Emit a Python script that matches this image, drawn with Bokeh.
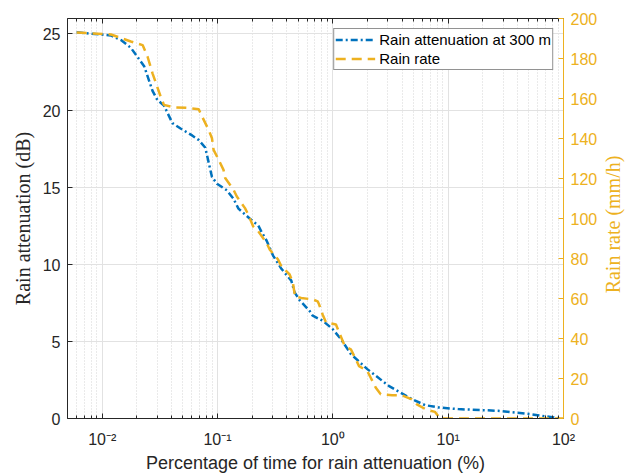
import math
from bokeh.plotting import figure
from bokeh.layouts import row
from bokeh.models import (Range1d, LinearAxis, LogAxis, FixedTicker,
                          CustomJSTickFormatter, Legend, LegendItem, Label)
from bokeh.embed import file_html
from bokeh.resources import INLINE

# ---- data ----
pct_att = [0.006, 0.0119, 0.01455, 0.0177, 0.0231, 0.0273, 0.0301, 0.0343,
           0.0406, 0.0478, 0.0602, 0.0687, 0.0784, 0.0811, 0.0895, 0.0989,
           0.1205, 0.1374, 0.1518, 0.191, 0.2254, 0.241, 0.266, 0.303,
           0.358, 0.436, 0.466, 0.514, 0.627, 0.669, 0.815, 0.993, 1.174,
           1.432, 1.99, 3.05, 4.84, 6.31, 8.22, 12.2, 27.0, 52.0, 94.0]
att_db = [25.1, 24.9, 24.6, 24.1, 22.9, 21.3, 20.7, 20.35,
          19.2, 18.85, 18.4, 18.1, 17.6, 17.1, 15.7, 15.26,
          14.83, 14.29, 13.64, 12.98, 12.55, 12.12, 11.57, 10.59,
          9.73, 8.96, 8.2, 7.7, 7.0, 6.68, 6.36, 5.82, 5.17,
          4.19, 3.21, 2.12, 1.26, 0.87, 0.72, 0.61, 0.5, 0.28, 0.0]

pct_rate = [0.006, 0.0119, 0.0177, 0.0224, 0.0247, 0.0273, 0.0321, 0.0343,
            0.0418, 0.0546, 0.0687, 0.0734, 0.0837, 0.0895, 0.0924, 0.0989,
            0.1127, 0.1165, 0.1374, 0.147, 0.173, 0.185, 0.204, 0.2254,
            0.266, 0.284, 0.335, 0.358, 0.422, 0.45, 0.47, 0.532, 0.669,
            0.738, 0.76, 0.815, 0.873, 1.064, 1.135, 1.253, 1.337, 1.432,
            1.58, 1.687, 1.99, 2.13, 2.35, 2.6, 3.26, 3.97, 4.84, 5.35,
            6.52, 7.69, 8.5, 100.0]
rain_rate = [193, 192, 188.5, 186.7, 181, 172.6, 161, 156.8,
             155.6, 155.3, 154.6, 151, 144.3, 140.1, 134.3, 131,
             124.3, 120.2, 114.4, 111, 105.2, 101.9, 96, 93.6,
             87.8, 84.4, 79.5, 76.1, 72, 68, 61, 60.3, 59.5,
             58.6, 57, 52, 48, 47, 43, 37, 35.4, 34.6,
             29.6, 26.2, 23.7, 20.4, 15.5, 12.1, 11.6, 11.6, 9.6, 7.1,
             4.3, 3.3, 0, 0]

x_ticks = [0.01, 0.1, 1, 10, 100]
x_exps = [-2, -1, 0, 1, 2]
x_tick_labels = ["10\u207b\u00b2", "10\u207b\u00b9", "10\u2070", "10\u00b9", "10\u00b2"]
x_minor = [m * 10.0 ** e for e in range(-3, 2) for m in range(2, 10)]
y_left_ticks = [0, 5, 10, 15, 20, 25]
y_right_ticks = [0, 20, 40, 60, 80, 100, 120, 140, 160, 180, 200]

BLUE = "#0072BD"
ORANGE = "#EDB120"
DARK = "#262626"
SANS = "Liberation Sans"
SERIF = "Liberation Serif"

p = figure(width=600, height=475, x_axis_type="log",
           x_range=Range1d(0.005, 100), y_range=Range1d(0, 26),
           output_backend="svg", toolbar_location=None,
           min_border_left=67, min_border_right=34,
           min_border_top=18, min_border_bottom=56)
p.extra_y_ranges = {"rate": Range1d(0, 200)}
p.outline_line_color = None
p.background_fill_color = "white"
p.border_fill_color = "white"

xticker = FixedTicker(ticks=x_ticks, minor_ticks=x_minor)
xfmt = CustomJSTickFormatter(args=dict(labels=x_tick_labels, exps=x_exps),
                             code="const e = Math.round(Math.log10(tick)); const i = exps.indexOf(e); return i >= 0 ? labels[i] : '';")

xa = p.xaxis[0]
xa.ticker = xticker
xa.formatter = xfmt
xa.axis_label = "Percentage of time for rain attenuation (%)"
xa.axis_label_text_font = SANS
xa.axis_label_text_font_style = "normal"
xa.axis_label_text_font_size = "18px"
xa.axis_label_text_color = DARK
xa.axis_label_standoff = 2
xa.major_label_text_font = SANS
xa.major_label_text_font_size = "16px"
xa.major_label_text_color = DARK
xa.major_label_standoff = 12
xa.axis_line_color = DARK
xa.major_tick_line_color = DARK
xa.minor_tick_line_color = DARK
xa.major_tick_in = 5
xa.major_tick_out = 0
xa.minor_tick_in = 3
xa.minor_tick_out = 0

ya = p.yaxis[0]
ya.ticker = FixedTicker(ticks=y_left_ticks)
ya.axis_label = "Rain attenuation (dB)"
ya.axis_label_text_font = SERIF
ya.axis_label_text_font_style = "normal"
ya.axis_label_text_font_size = "20px"
ya.axis_label_text_color = DARK
ya.axis_label_standoff = 6
ya.major_label_text_font = SANS
ya.major_label_text_font_size = "16px"
ya.major_label_text_color = DARK
ya.major_label_standoff = 7
ya.axis_line_color = DARK
ya.major_tick_line_color = DARK
ya.minor_tick_line_color = None
ya.major_tick_in = 5
ya.major_tick_out = 0

top = LogAxis(ticker=xticker,
              formatter=CustomJSTickFormatter(code="return '';"),
              major_label_text_font_size="0px", major_label_standoff=0,
              axis_line_color=DARK, major_tick_line_color=DARK,
              minor_tick_line_color=DARK, major_tick_in=5, major_tick_out=0,
              minor_tick_in=3, minor_tick_out=0)
p.add_layout(top, "above")

ra = LinearAxis(y_range_name="rate", ticker=FixedTicker(ticks=y_right_ticks))
ra.major_label_text_font = SANS
ra.major_label_text_font_size = "16px"
ra.major_label_text_color = ORANGE
ra.major_label_standoff = 7
ra.axis_line_color = ORANGE
ra.major_tick_line_color = ORANGE
ra.minor_tick_line_color = None
ra.major_tick_in = 5
ra.major_tick_out = 0
p.add_layout(ra, "right")

p.xgrid.ticker = xticker
p.xgrid.grid_line_color = "#e2e2e2"
p.xgrid.grid_line_width = 1
p.xgrid.minor_grid_line_color = "#d4d4d4"
p.xgrid.minor_grid_line_dash = "1 2"
p.ygrid.grid_line_color = "#e2e2e2"

r1 = p.line(pct_att, att_db, line_color=BLUE, line_width=2.5,
            line_dash="7 3 2 3")
r2 = p.line(pct_rate, rain_rate, y_range_name="rate", line_color=ORANGE,
            line_width=2.5, line_dash="10 6")

legend = Legend(items=[LegendItem(label="Rain attenuation at 300 m", renderers=[r1]),
                       LegendItem(label="Rain rate", renderers=[r2])],
                location="top_right")
legend.margin = 10
legend.padding = 1
legend.spacing = 0
legend.glyph_width = 40
legend.glyph_height = 19
legend.label_height = 19
legend.label_standoff = 4
legend.label_text_font = SANS
legend.label_text_font_size = "15px"
legend.label_text_color = "#000000"
legend.border_line_color = DARK
legend.border_line_width = 1
legend.background_fill_color = "white"
legend.background_fill_alpha = 1
p.add_layout(legend)

# narrow strip carrying the right-axis title, reading bottom-to-top
p2 = figure(width=28, height=475, output_backend="svg", toolbar_location=None,
            x_axis_type=None, y_axis_type=None,
            x_range=Range1d(0, 1), y_range=Range1d(0, 1),
            min_border_left=0, min_border_right=0,
            min_border_top=0, min_border_bottom=0)
p2.outline_line_color = None
p2.background_fill_color = "white"
p2.border_fill_color = "white"
right_title = Label(x=12, y=194, x_units="screen", y_units="screen",
                    text="Rain rate (mm/h)", angle=math.pi / 2,
                    text_align="center", text_baseline="middle",
                    text_font=SERIF, text_font_size="20px", text_color=ORANGE)
p2.add_layout(right_title)

layout = row(p, p2, spacing=0)
open("out.html", "w").write(file_html(layout, INLINE))
